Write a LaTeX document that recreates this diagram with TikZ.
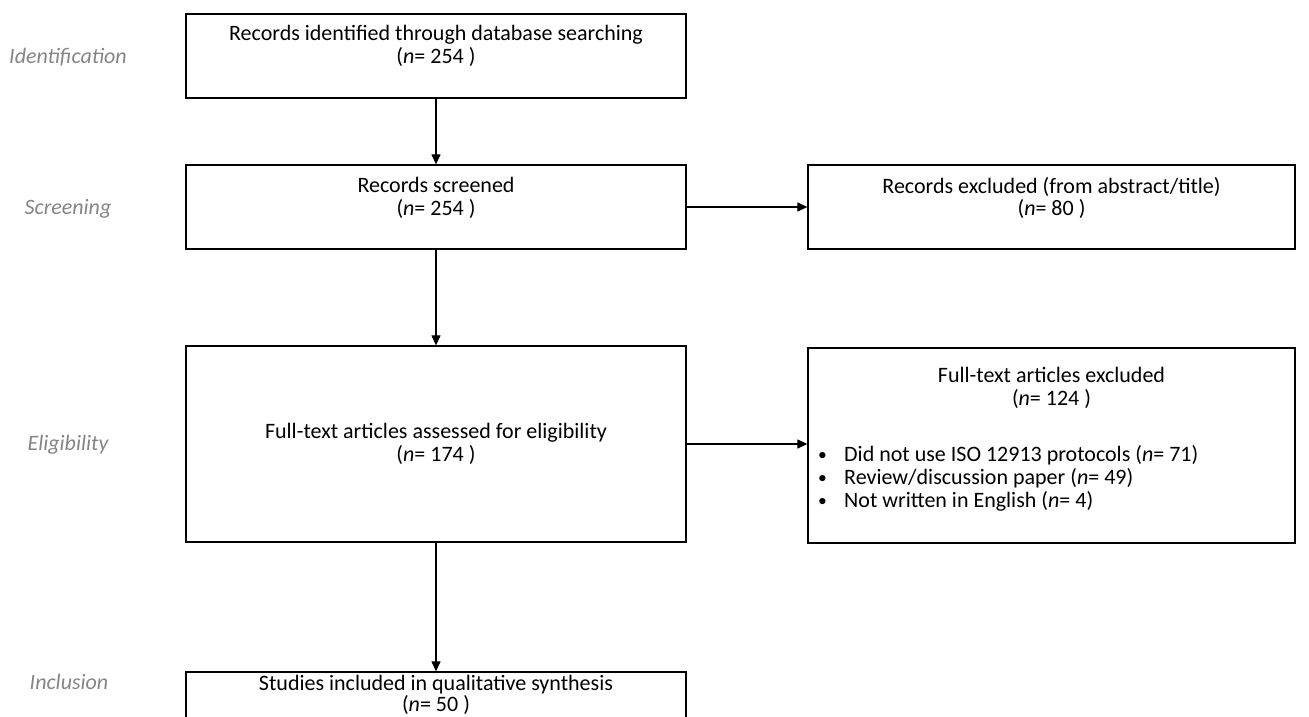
\documentclass[tikz,border=0pt]{standalone}
\usepackage{fontspec}
\setmainfont{Carlito}
\usetikzlibrary{arrows.meta}
\newcommand{\bul}{\makebox[27pt][l]{\hspace{1pt}\raisebox{1pt}{\scalebox{0.8}{\textbullet}}}}
\begin{document}
\begin{tikzpicture}[x=1pt,y=-1pt,
  box/.style={draw, line width=1.3pt, minimum width=500pt, minimum height=84pt, inner sep=0pt},
  txt/.style={font=\fontsize{22}{22.5}\selectfont, align=center, inner sep=0pt},
  lst/.style={font=\fontsize{22}{23}\selectfont, align=left, inner sep=0pt},
  stage/.style={font=\fontsize{22}{22}\selectfont\itshape, text=black!48, inner sep=0pt},
  arr/.style={-{Triangle[length=10pt,width=9pt]}, line width=1.2pt}]
\useasboundingbox (0,0) rectangle (1309,716);
\clip (0,0) rectangle (1309,716);
% stage labels
\node[stage] (s1) at (68,57) {Identification};
\node[stage] (s2) at (68,209) {Screening};
\node[stage] (s3) at (68,445) {Eligibility};
\node[stage] (s4) at (69,682) {Inclusion};
% boxes
\node[box] (b1) at (436,56) {};
\node[box] (b2) at (436,207) {};
\node[box, minimum width=487pt] (e1) at (1051.5,207) {};
\node[box, minimum height=196pt] (b3) at (436,444) {};
\node[box, minimum width=487pt, minimum height=195pt] (e2) at (1051.5,445.5) {};
\node[box] (b4) at (436,714) {};
% texts
\node[txt] (t1) at (436,46) {Records identified through database searching\\(\textit{n}= 254 )};
\node[txt] (t2) at (436,198) {Records screened\\(\textit{n}= 254 )};
\node[txt] (te1) at (1051.5,198) {Records excluded (from abstract/title)\\(\textit{n}= 80 )};
\node[txt] (t3) at (436,444) {Full-text articles assessed for eligibility\\(\textit{n}= 174 )};
\node[txt] (te2) at (1051.5,388) {Full-text articles excluded\\(\textit{n}= 124 )};
\node[lst, anchor=west] (l2) at (817,478) {\bul Did not use ISO 12913 protocols (\textit{n}= 71)\\
\bul Review/discussion paper (\textit{n}= 49)\\
\bul Not written in English (\textit{n}= 4)};
\node[txt, font=\fontsize{22}{20.5}\selectfont] (t4) at (436,695) {Studies included in qualitative synthesis\\(\textit{n}= 50 )};
% arrows
\draw[arr] (b1.south) -- (b2.north);
\draw[arr] (b2.south) -- (b3.north);
\draw[arr] (b3.south) -- (b4.north);
\draw[arr] (b2.east) -- (e1.west);
\draw[arr] (b3.east) -- (b3.east -| e2.west);
\end{tikzpicture}
\end{document}
